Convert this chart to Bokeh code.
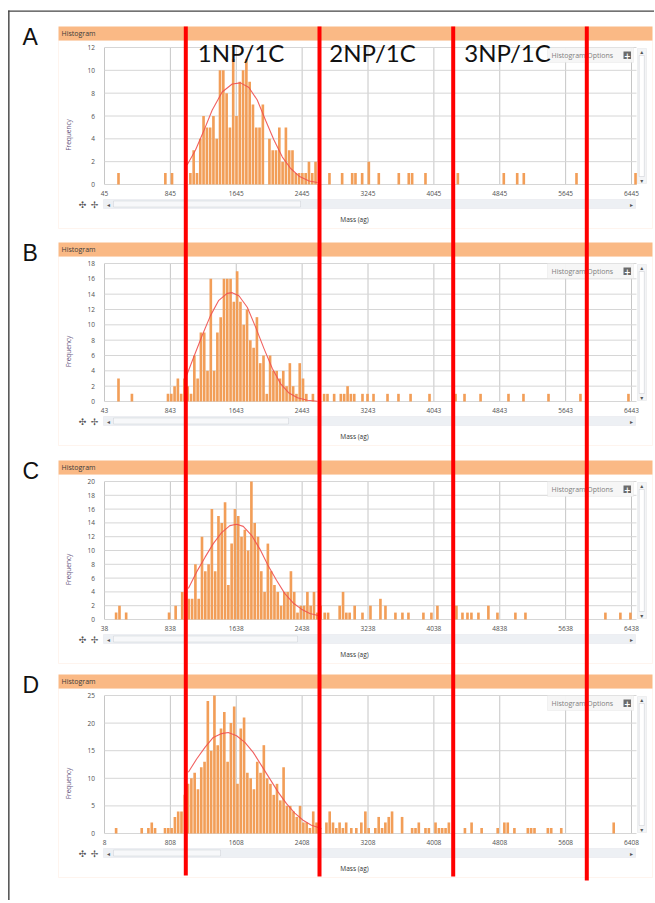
from math import pi
from bokeh.plotting import figure
from bokeh.models import BoxAnnotation, Label, Range1d
from bokeh.core.properties import value
from bokeh.embed import file_html
from bokeh.resources import INLINE

# ---------------- data ----------------
BIN_WIDTH = 40

A_xticks = [45, 845, 1645, 2445, 3245, 4045, 4845, 5645, 6445]
A_yticks = [0, 2, 4, 6, 8, 10, 12]
A_run_start = 1088
A_run_counts = [1, 3, 1, 4, 6, 5, 5, 6, 4, 10, 10, 8, 5, 11, 6, 9, 10, 11, 9, 7,
                5, 5, 7, 0, 4, 3, 3, 5, 2, 5, 3, 3, 1, 1, 1, 1, 2, 1, 2]
A_out_mass = [215, 784, 865, 2777, 2931, 3053, 3093, 3174, 3255, 3376, 3619, 3740,
              3781, 3943, 4336, 4894, 5057, 5137, 5777, 6494]
A_out_count = [1, 1, 1, 1, 1, 1, 1, 1, 2, 1, 1, 1, 1, 1, 1, 1, 1, 1, 1, 1]
A_fit_mass = [1048, 1149, 1251, 1352, 1474, 1596, 1697, 1799, 1900, 2002, 2103,
              2205, 2306, 2408, 2530, 2631]
A_fit_freq = [1.7, 3.0, 4.7, 6.5, 8.1, 8.8, 8.9, 8.5, 7.4, 5.6, 3.9, 2.4, 1.4,
              0.73, 0.3, 0.17]

B_xticks = [43, 843, 1643, 2443, 3243, 4043, 4843, 5643, 6443]
B_yticks = [0, 2, 4, 6, 8, 10, 12, 14, 16, 18]
B_run_start = 814
B_run_counts = [1, 1, 2, 3, 1, 3, 2, 1, 6, 3, 9, 9, 4, 16, 4, 9, 11, 16, 16, 16,
                13, 17, 13, 10, 12, 8, 7, 11, 5, 6, 1, 6, 4, 4, 3, 4, 2, 5, 2, 1,
                5, 3, 1, 0, 1]
B_out_mass = [213, 376, 2710, 2751, 2832, 2913, 2954, 2995, 3035, 3076, 3176, 3237,
              3310, 3480, 3613, 3760, 3990, 4306, 4415, 4610, 4949, 5131, 5435,
              5823, 6406]
B_out_count = [3, 1, 1, 1, 1, 1, 1, 2, 1, 1, 1, 1, 1, 1, 1, 1, 1, 1, 1, 1, 1, 1,
               1, 1, 1]
B_fit_mass = [1026, 1127, 1229, 1330, 1431, 1533, 1594, 1675, 1777, 1878, 1980,
              2081, 2183, 2284, 2386, 2507, 2629]
B_fit_freq = [3.0, 5.8, 8.6, 11.2, 13.2, 14.1, 14.2, 13.8, 12.3, 9.7, 6.9, 4.3,
              2.3, 1.1, 0.5, 0.17, 0.04]

C_xticks = [38, 838, 1638, 2438, 3238, 4038, 4838, 5638, 6438]
C_yticks = [0, 2, 4, 6, 8, 10, 12, 14, 16, 18, 20]
C_run_start = 822
C_run_counts = [1, 0, 2, 0, 4, 4, 3, 3, 8, 3, 12, 7, 8, 16, 7, 15, 14, 17, 5, 11,
                16, 15, 12, 13, 10, 20, 14, 12, 7, 4, 11, 7, 5, 4, 2, 4, 4, 7, 4,
                1, 2, 2, 4, 2, 4, 1, 2]
C_out_mass = [179, 220, 301, 2712, 2753, 2894, 2935, 2975, 3015, 3076, 3171, 3268,
              3389, 3450, 3571, 3656, 3729, 3911, 4008, 4081, 4312, 4385, 4446,
              4494, 4579, 4700, 4810, 5028, 5150, 6121, 6303, 6425]
C_out_count = [1, 2, 1, 1, 1, 2, 4, 1, 1, 2, 1, 2, 3, 2, 1, 1, 1, 1, 1, 2, 2, 1,
               1, 1, 1, 2, 1, 1, 1, 1, 1, 1]
C_fit_mass = [1056, 1157, 1258, 1359, 1460, 1561, 1642, 1723, 1824, 1925, 2026,
              2127, 2228, 2329, 2430, 2531, 2632]
C_fit_freq = [4.5, 6.9, 9.0, 11.0, 12.6, 13.6, 13.8, 13.5, 12.2, 10.2, 7.8, 5.7,
              3.75, 2.4, 1.5, 0.87, 0.58]

D_xticks = [8, 808, 1608, 2408, 3208, 4008, 4808, 5608, 6408]
D_yticks = [0, 5, 10, 15, 20, 25]
D_run_start = 743
D_run_counts = [1, 1, 1, 3, 4, 4, 7, 9, 10, 11, 8, 12, 13, 24, 15, 25, 16, 19, 22,
                13, 20, 23, 9, 19, 21, 11, 10, 8, 13, 11, 16, 10, 9, 7, 9, 6, 12,
                5, 5, 4, 3, 5, 2, 2, 1, 4, 2, 1, 0, 2, 4, 2, 1, 2, 1, 2]
D_out_mass = [149, 460, 541, 582, 622, 3005, 3066, 3127, 3176, 3216, 3297, 3338,
              3379, 3419, 3460, 3500, 3622, 3744, 3785, 3825, 3906, 3947, 4028,
              4069, 4109, 4150, 4190, 4385, 4466, 4588, 4783, 4864, 4905, 4986,
              5149, 5189, 5230, 5392, 5433, 5555, 6192]
D_out_count = [1, 1, 1, 2, 1, 1, 1, 2, 4, 1, 1, 3, 1, 2, 3, 4, 3, 1, 1, 2, 1, 1,
               2, 1, 1, 1, 2, 1, 2, 1, 1, 2, 2, 1, 1, 1, 1, 1, 1, 1, 2]
D_fit_mass = [1026, 1127, 1228, 1329, 1430, 1511, 1612, 1713, 1814, 1915, 2016,
              2117, 2218, 2319, 2420, 2521, 2642]
D_fit_freq = [11.1, 13.5, 15.6, 17.4, 18.1, 18.3, 17.7, 16.5, 14.7, 12.3, 9.9, 7.5,
              5.4, 3.7, 2.4, 1.5, 0.9]

population_labels = ["1NP/1C", "2NP/1C", "3NP/1C"]
panel_letters = ["A", "B", "C", "D"]

# ---------------- layout / styling ----------------
WC, HC = 654, 900
PLOT_LEFT, PLOT_RIGHT = 104, 636       # page x of the plot areas
TICK_PX = 527                          # px between first and last mass tick
TICK_SPAN = 6400
KX = TICK_PX / TICK_SPAN
X_SPAN = (PLOT_RIGHT - PLOT_LEFT) / KX
PANEL_LEFT, PANEL_RIGHT = 58, 652
FRAMES = [(47, 184), (263, 401), (481, 619), (695, 833)]   # (top, bottom) page y
THUMB_RIGHT = [300, 288, 297, 220]
GUIDE_X = [185.3, 319, 452.7, 586.3]
GUIDE_TOP = 26
GUIDE_BOTTOM = [875, 876, 876, 880]
LABEL_X = [240.5, 372, 507]

HEADER = "#FAB985"
BAR = "#F29E58"
FONT = "Open Sans"

p = figure(width=WC, height=HC, x_range=Range1d(0, WC), y_range=Range1d(HC, 0),
           x_axis_type=None, y_axis_type=None, min_border=0,
           toolbar_location=None, output_backend="svg")
p.outline_line_color = None
p.background_fill_color = "white"
p.border_fill_color = "white"


def cbox(**kw):
    kw.setdefault("fill_alpha", 1)
    kw.setdefault("line_color", None)
    b = BoxAnnotation(left_units="canvas", right_units="canvas",
                      top_units="canvas", bottom_units="canvas", **kw)
    p.add_layout(b)


def clabel(x, y, text, **kw):
    kw.setdefault("text_baseline", "middle")
    p.add_layout(Label(x=x, y=y, x_units="canvas", y_units="canvas", text=text, **kw))


# outer frame lines of the figure
cbox(left=7.7, right=9, top=10, bottom=HC, fill_color="#333333")
cbox(left=7.7, right=WC, top=10, bottom=11.3, fill_color="#444444")

panels = [
    (A_xticks, A_yticks, A_run_start, A_run_counts, A_out_mass, A_out_count, A_fit_mass, A_fit_freq),
    (B_xticks, B_yticks, B_run_start, B_run_counts, B_out_mass, B_out_count, B_fit_mass, B_fit_freq),
    (C_xticks, C_yticks, C_run_start, C_run_counts, C_out_mass, C_out_count, C_fit_mass, C_fit_freq),
    (D_xticks, D_yticks, D_run_start, D_run_counts, D_out_mass, D_out_count, D_fit_mass, D_fit_freq),
]

for i, (xt, yt, rs, rc, om, oc, fm, ff) in enumerate(panels):
    FT, FB = FRAMES[i]
    ymax = yt[-1]
    ky = (FB - FT) / ymax
    xn, yn = f"x{i}", f"y{i}"
    p.extra_x_ranges[xn] = Range1d(xt[0] - PLOT_LEFT / KX, xt[0] + (WC - PLOT_LEFT) / KX)
    p.extra_y_ranges[yn] = Range1d(-(HC - FB) / ky, ymax + FT / ky)
    rn = dict(x_range_name=xn, y_range_name=yn)

    # panel chrome
    cbox(left=PANEL_LEFT, right=PANEL_RIGHT, top=FT - 7, bottom=FB + 44,
         fill_color=None, line_color="#FBDCC6", line_width=1)
    cbox(left=PANEL_LEFT, right=PANEL_RIGHT, top=FT - 21, bottom=FT - 7, fill_color=HEADER)
    clabel(61, FT - 14, "Histogram", text_font=FONT, text_font_size="7px",
           text_color="#3a3a3a")
    clabel(22, FT - 11, panel_letters[i], text_font="Liberation Sans",
           text_font_size="23px", text_color="#111111")

    # grid lines at the tick values
    x_end = xt[0] + X_SPAN
    p.segment(x0=xt, y0=[0] * len(xt), x1=xt, y1=[ymax] * len(xt),
              line_color="#C6C6C6", line_width=1, **rn)
    p.segment(x0=[xt[0]] * len(yt), y0=yt, x1=[x_end] * len(yt), y1=yt,
              line_color="#D6D6D6", line_width=1, **rn)

    # histogram bars
    centers = [rs + BIN_WIDTH * k for k in range(len(rc))] + om
    counts = rc + oc
    xs = [c for c, n in zip(centers, counts) if n > 0]
    ys = [n for n in counts if n > 0]
    p.vbar(x=xs, top=ys, bottom=0, width=BIN_WIDTH * 0.8,
           fill_color=BAR, line_color=None, **rn)
    # fitted curve
    p.line(fm, ff, line_color="#F0504F", line_width=1.1, line_alpha=0.9, **rn)

    # tick labels and axis titles
    p.text(x=xt, y=[0] * len(xt), text=[str(t) for t in xt], y_offset=9,
           text_align="center", text_baseline="middle", text_font=value(FONT),
           text_font_size=value("6.5px"), text_color="#505050", **rn)
    p.text(x=[xt[0]] * len(yt), y=yt, text=[str(t) for t in yt], x_offset=-9.5,
           text_align="right", text_baseline="middle", text_font=value(FONT),
           text_font_size=value("6.5px"), text_color="#505050", **rn)
    p.text(x=[xt[0]], y=[ymax / 2], text=["Frequency"], x_offset=-36, y_offset=19,
           angle=pi / 2, text_align="center", text_baseline="middle",
           text_font=value(FONT), text_font_size=value("6.5px"),
           text_color="#6a5a82", **rn)
    p.text(x=[xt[0] + X_SPAN / 2], y=[0], text=["Mass (ag)"], x_offset=-16, y_offset=35,
           text_align="center", text_baseline="middle", text_font=value(FONT),
           text_font_size=value("6.5px"), text_color="#333333", **rn)

    # options box
    cbox(left=547, right=633, top=FT, bottom=FT + 15, fill_color="#F6F6F6",
         fill_alpha=0.95, line_color="#DADADA")
    clabel(551, FT + 7.5, "Histogram Options", text_font=FONT, text_font_size="7px",
           text_color="#808080")
    cbox(left=623, right=630.5, top=FT + 4, bottom=FT + 11.5, fill_color="#6b6b6b")
    clabel(626.8, FT + 7.6, "+", text_font="DejaVu Sans", text_font_size="8px",
           text_color="white", text_align="center", text_font_style="bold")

    # vertical scrollbar
    cbox(left=637, right=646, top=FT + 1, bottom=FB - 1, fill_color="#F3F4F6",
         line_color="#D3D6DB")
    cbox(left=638.7, right=643.8, top=FT + 8, bottom=FB - 8, fill_color="white",
         line_color="#A8ADB5")
    clabel(641.3, FT + 4, "▴", text_font="DejaVu Sans", text_font_size="6px",
           text_color="#555555", text_align="center")
    clabel(641.3, FB - 4, "▾", text_font="DejaVu Sans", text_font_size="6px",
           text_color="#555555", text_align="center")

    # horizontal scrollbar
    cbox(left=103, right=635, top=FB + 15, bottom=FB + 24, fill_color="#EDF0F4",
         line_color="#D6DAE0")
    cbox(left=113, right=THUMB_RIGHT[i], top=FB + 16.5, bottom=FB + 22.5,
         fill_color="#F7F8FA", line_color="#B5BAC2")
    clabel(108, FB + 19.5, "◂", text_font="DejaVu Sans", text_font_size="6px",
           text_color="#555555", text_align="center")
    clabel(631, FB + 19.5, "▸", text_font="DejaVu Sans", text_font_size="6px",
           text_color="#555555", text_align="center")
    clabel(82, FB + 20, "✣", text_font="DejaVu Sans", text_font_size="9px",
           text_color="#555555", text_align="center")
    clabel(94, FB + 20, "✢", text_font="DejaVu Sans", text_font_size="9px",
           text_color="#555555", text_align="center")

# population labels on top of panel A
for lx, t in zip(LABEL_X, population_labels):
    clabel(lx, 51.7, t, text_font="Lato", text_font_size="24px",
           text_color="#111111", text_align="center")

# red guide lines overlaid on all panels
for gx, gb in zip(GUIDE_X, GUIDE_BOTTOM):
    cbox(left=gx - 2, right=gx + 2, top=GUIDE_TOP, bottom=gb,
         fill_color="#FF0000", level="overlay")

open("out.html", "w").write(file_html(p, INLINE))
